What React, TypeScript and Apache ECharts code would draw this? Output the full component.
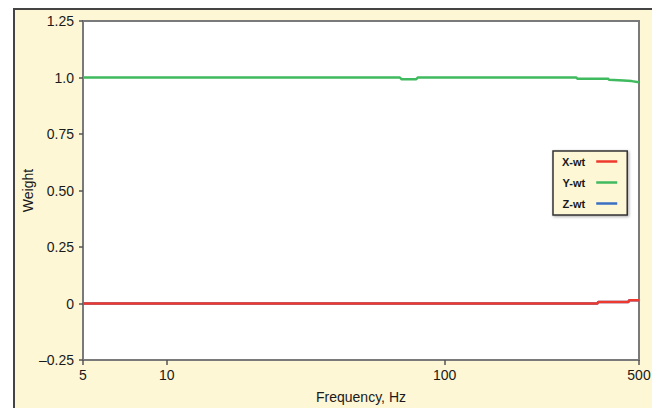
import React, { useEffect, useRef } from "react";
import * as echarts from "echarts";

const seriesNames = ["X-wt", "Y-wt", "Z-wt"];
const xFreq = [5, 354, 357, 458, 461, 500];
const xWt = [0, 0, 0.007, 0.007, 0.014, 0.014];
const yFreq = [5, 69, 70, 79, 80, 297, 300, 387, 390, 440, 470, 500];
const yWt = [1.0, 1.0, 0.992, 0.992, 1.0, 1.0, 0.995, 0.995, 0.99, 0.987, 0.984, 0.979];
const zFreq = [5, 354, 357, 458, 461, 500];
const zWt = [0, 0, 0.007, 0.007, 0.014, 0.014];
const yTickLabels: Record<string, string> = {
  "-0.25": "\u20130.25",
  "0": "0",
  "0.25": "0.25",
  "0.5": "0.50",
  "0.75": "0.75",
  "1": "1.0",
  "1.25": "1.25",
};

const pairs = (f: number[], v: number[]) => f.map((x, i) => [x, v[i]]);

export default function App() {
  const ref = useRef<HTMLDivElement>(null);
  useEffect(() => {
    if (!ref.current) return;
    const chart = echarts.init(ref.current, undefined, { renderer: "svg" });
    const font = "'Liberation Sans', Arial, sans-serif";
    chart.setOption({
      animation: false,
      backgroundColor: "transparent",
      grid: {
        left: 83,
        top: 21,
        right: 13,
        bottom: 48,
        outerBoundsMode: "none",
        containLabel: false,
        show: true,
        backgroundColor: "#ffffff",
        borderColor: "#7a7a7a",
        borderWidth: 2,
      },
      legend: {
        data: seriesNames,
        orient: "vertical",
        left: 553,
        top: 151,
        align: "right",
        icon: "rect",
        itemWidth: 21,
        itemHeight: 2.5,
        itemGap: 10,
        padding: [5, 10, 6, 9],
        backgroundColor: "#fdf7d6",
        borderColor: "#333",
        borderWidth: 1.5,
        shadowBlur: 3,
        shadowColor: "rgba(0,0,0,0.35)",
        shadowOffsetX: 1,
        shadowOffsetY: 1,
        textStyle: { fontFamily: font, fontSize: 11, fontWeight: "bold", color: "#1a1a1a", padding: [0, 6, 0, 0] },
      },
      xAxis: {
        type: "log",
        logBase: 10,
        min: 5,
        max: 500,
        name: "Frequency, Hz",
        nameLocation: "middle",
        nameGap: 30,
        nameMoveOverlap: false,
        nameTextStyle: { fontFamily: font, fontSize: 14, color: "#1a1a1a" },
        axisLine: { show: true, onZero: false, lineStyle: { color: "#7a7a7a", width: 2 } },
        axisTick: { show: true, length: 5, lineStyle: { color: "#555", width: 1.5 } },
        minorTick: { show: false },
        splitLine: { show: false },
        axisLabel: {
          fontFamily: font,
          fontSize: 14,
          color: "#1a1a1a",
          margin: 8,
          showMinLabel: true,
          showMaxLabel: true,
        },
      },
      yAxis: {
        type: "value",
        min: -0.25,
        max: 1.25,
        interval: 0.25,
        name: "Weight",
        nameLocation: "middle",
        nameGap: 48,
        nameMoveOverlap: false,
        nameTextStyle: { fontFamily: font, fontSize: 14, color: "#1a1a1a" },
        axisLine: { show: true, lineStyle: { color: "#7a7a7a", width: 2 } },
        axisTick: { show: true, length: 4, lineStyle: { color: "#555", width: 1.5 } },
        splitLine: { show: false },
        axisLabel: {
          fontFamily: font,
          fontSize: 14,
          color: "#1a1a1a",
          margin: 9,
          formatter: (v: number) => yTickLabels[String(Math.round(v * 100) / 100)] ?? String(v),
        },
      },
      series: [
        {
          name: "Z-wt",
          type: "line",
          data: pairs(zFreq, zWt),
          showSymbol: false,
          z: 1,
          lineStyle: { color: "#3a6fc4", width: 2.5 },
          itemStyle: { color: "#3a6fc4" },
        },
        {
          name: "X-wt",
          type: "line",
          data: pairs(xFreq, xWt),
          showSymbol: false,
          z: 2,
          lineStyle: { color: "#ee3a2e", width: 2.5 },
          itemStyle: { color: "#ee3a2e" },
        },
        {
          name: "Y-wt",
          type: "line",
          data: pairs(yFreq, yWt),
          showSymbol: false,
          z: 3,
          lineStyle: { color: "#3fba5e", width: 2.5 },
          itemStyle: { color: "#3fba5e" },
        },
      ],
    });
    return () => chart.dispose();
  }, []);

  return (
    <div style={{ position: "fixed", left: 0, top: 0, width: 652, height: 408, background: "#fff", overflow: "hidden" }}>
      <div
        style={{
          position: "absolute",
          left: 13,
          top: 8,
          width: 700,
          height: 500,
          border: "2px solid #444",
          background: "#fdf7d6",
        }}
      />
      <div ref={ref} style={{ position: "absolute", left: 0, top: 0, width: 652, height: 408 }} />
    </div>
  );
}
